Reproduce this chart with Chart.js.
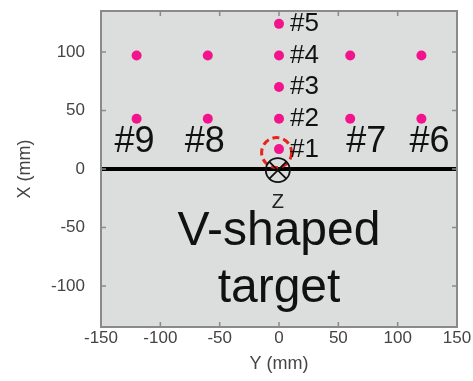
<!DOCTYPE html>
<html>
<head>
<meta charset="utf-8">
<script src="https://cdn.jsdelivr.net/npm/chart.js@4.4.1/dist/chart.umd.min.js"></script>
<style>
  html, body { margin: 0; padding: 0; background: #fff; }
  canvas { display: block; }
</style>
</head>
<body>
<canvas id="grafica" width="473" height="381"></canvas>
<script>
// posiciones de los sensores (mm): Y horizontal, X vertical
var sensorY = [0, 0, 0, 0, 0, 120, 60, -60, -120, -120, -60, 60, 120];
var sensorX = [17, 43, 70, 97, 124, 43, 43, 43, 43, 97, 97, 97, 97];
var sensorLabels = ['#1', '#2', '#3', '#4', '#5', '#6', '#7', '#8', '#9', '', '', '', ''];

// superficie del blanco en X = 0
var surfaceY = [-150, 150];
var surfaceX = [0, 0];

// rango y marcas de los ejes
var yTicks = [-150, -100, -50, 0, 50, 100, 150];
var xTicks = [-100, -50, 0, 50, 100];

// zona de enfoque (circulo rojo) y punto Z
var focus = { y: -2, x: 14 };
var zPoint = { y: -1, x: -1 };

var gris = '#dcdddd';
var ejeColor = '#8a8a8a';
var textoEje = '#444444';

// desplazamiento de las etiquetas en pixeles
var labelOffsets = [
    [11, 1, 'left'], [11, 0, 'left'], [11, 0, 'left'], [11, 0, 'left'], [11, 0, 'left'],
    [8, 23, 'center'], [16, 23, 'center'], [-3, 23, 'center'], [-2, 23, 'center']
];

var dibujo = {
    id: 'dibujo',
    beforeDatasetsDraw: function (chart) {
        var a = chart.chartArea, ctx = chart.ctx;
        ctx.save();
        ctx.fillStyle = gris;
        ctx.fillRect(a.left, a.top, a.right - a.left, a.bottom - a.top);
        ctx.restore();
    },
    afterDatasetsDraw: function (chart) {
        var a = chart.chartArea, ctx = chart.ctx;
        var sx = chart.scales.x, sy = chart.scales.y;
        ctx.save();

        // marcas hacia dentro en los cuatro lados
        ctx.strokeStyle = ejeColor;
        ctx.lineWidth = 1.5;
        ctx.beginPath();
        xTicks.forEach(function (v) {
            var px = sx.getPixelForValue(v);
            ctx.moveTo(px, a.bottom); ctx.lineTo(px, a.bottom - 5);
            ctx.moveTo(px, a.top); ctx.lineTo(px, a.top + 5);
        });
        sy.ticks.forEach(function (t) {
            var py = sy.getPixelForValue(t.value);
            ctx.moveTo(a.left, py); ctx.lineTo(a.left + 5, py);
            ctx.moveTo(a.right, py); ctx.lineTo(a.right - 5, py);
        });
        ctx.stroke();

        // marco
        ctx.lineWidth = 2;
        ctx.strokeRect(a.left, a.top, a.right - a.left, a.bottom - a.top);

        // circulo de enfoque
        var fx = sx.getPixelForValue(focus.y), fy = sy.getPixelForValue(focus.x);
        ctx.strokeStyle = '#e8231c';
        ctx.lineWidth = 3;
        ctx.setLineDash([7, 4]);
        ctx.beginPath();
        ctx.arc(fx, fy, 15, 0, Math.PI * 2);
        ctx.stroke();
        ctx.setLineDash([]);

        // punto Z (rueda)
        var zx = sx.getPixelForValue(zPoint.y), zy = sy.getPixelForValue(zPoint.x);
        var r = 12;
        ctx.strokeStyle = '#111';
        ctx.lineWidth = 1.8;
        ctx.beginPath();
        ctx.arc(zx, zy, r, 0, Math.PI * 2);
        ctx.moveTo(zx - r * 0.7, zy - r * 0.7); ctx.lineTo(zx + r * 0.7, zy + r * 0.7);
        ctx.moveTo(zx + r * 0.7, zy - r * 0.7); ctx.lineTo(zx - r * 0.7, zy + r * 0.7);
        ctx.stroke();

        ctx.fillStyle = '#222';
        ctx.font = '20px "Liberation Sans", Arial, sans-serif';
        ctx.textAlign = 'center';
        ctx.textBaseline = 'middle';
        ctx.fillText('Z', zx, zy + 32);

        // etiquetas de los sensores
        ctx.fillStyle = '#111';
        sensorLabels.forEach(function (lab, i) {
            if (!lab) return;
            var px = sx.getPixelForValue(sensorY[i]), py = sy.getPixelForValue(sensorX[i]);
            var off = labelOffsets[i];
            ctx.font = (i < 5 ? '26px' : '36px') + ' "Liberation Sans", Arial, sans-serif';
            ctx.textAlign = off[2];
            ctx.fillText(lab, px + off[0], py + off[1]);
        });

        // texto del blanco
        var cx = sx.getPixelForValue(0);
        ctx.font = '48px "Liberation Sans", Arial, sans-serif';
        ctx.textAlign = 'center';
        ctx.textBaseline = 'alphabetic';
        ctx.fillText('V-shaped', cx, 245);
        ctx.fillText('target', cx, 302);

        ctx.restore();
    }
};

var ctx = document.getElementById('grafica').getContext('2d');
var myChart = new Chart(ctx, {
    type: 'scatter',
    data: {
        datasets: [{
            // superficie
            data: surfaceY.map(function (v, i) { return { x: v, y: surfaceX[i] }; }),
            showLine: true,
            borderColor: '#000',
            borderWidth: 4,
            pointRadius: 0
        }, {
            // sensores
            data: sensorY.map(function (v, i) { return { x: v, y: sensorX[i] }; }),
            backgroundColor: '#f2148c',
            borderWidth: 0,
            pointRadius: 5
        }]
    },
    options: {
        responsive: false,
        animation: false,
        devicePixelRatio: 1,
        layout: { padding: { top: 11, right: 16, left: 0, bottom: 0 } },
        plugins: { legend: { display: false }, tooltip: { enabled: false } },
        scales: {
            x: {
                min: yTicks[0],
                max: yTicks[yTicks.length - 1],
                grid: { display: false },
                border: { display: false },
                ticks: {
                    stepSize: 50,
                    padding: -7,
                    color: textoEje,
                    font: { family: '"Liberation Sans", Arial, sans-serif', size: 17 }
                },
                title: {
                    display: true,
                    text: 'Y (mm)',
                    color: textoEje,
                    padding: { top: 0, bottom: 6 },
                    font: { family: '"Liberation Sans", Arial, sans-serif', size: 18 }
                },
                afterFit: function (s) {
                    s.height = 54;
                    s.paddingLeft = 0;
                    s.paddingRight = 0;
                }
            },
            y: {
                min: -135,
                max: 135,
                grid: { display: false },
                border: { display: false },
                ticks: {
                    stepSize: 50,
                    includeBounds: false,
                    padding: 8,
                    color: textoEje,
                    font: { family: '"Liberation Sans", Arial, sans-serif', size: 17 }
                },
                title: {
                    display: true,
                    text: 'X (mm)',
                    color: textoEje,
                    padding: { top: 14, bottom: 0 },
                    font: { family: '"Liberation Sans", Arial, sans-serif', size: 18 }
                },
                afterFit: function (s) {
                    s.width = 101;
                    s.paddingTop = 0;
                    s.paddingBottom = 0;
                }
            }
        }
    },
    plugins: [dibujo]
});
</script>
</body>
</html>
